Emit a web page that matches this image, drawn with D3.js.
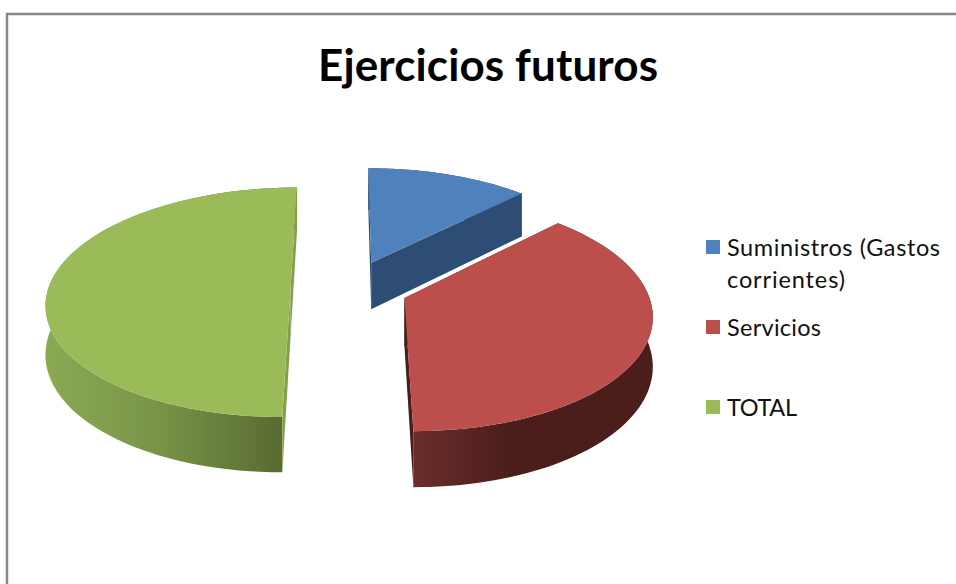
<!DOCTYPE html>
<html>
<head>
<meta charset="utf-8">
<style>
html,body{margin:0;padding:0;background:#fff;overflow:hidden}
svg{display:block}
text{font-family:Lato,"Open Sans",sans-serif;fill:#111}
</style>
<script src="https://cdn.jsdelivr.net/npm/d3@7/dist/d3.min.js"></script>
</head>
<body>
<svg id="c" width="956" height="584"></svg>
<script>
const categories = ["Suministros (Gastos corrientes)", "Servicios", "TOTAL"];
const legendLines = [["Suministros (Gastos", "corrientes)"], ["Servicios"], ["TOTAL"]];
const values = [12.5, 37.5, 50];
const topColors = ["#4f81bd", "#bc4f4c", "#9bbb59"];
const cutColors = ["#2d4d74", "#4a1c1a", "#82a04a"];
const legendTextY = [256, 336, 416];
const legendLengths = [[213, 118], [94], [70]];
const legendLineStep = 32;

const svg = d3.select("#c");
svg.append("path").attr("d", "M7,584V14H956").attr("fill", "none").attr("stroke", "#878787").attr("stroke-width", 2.4);

svg.append("text").attr("x", 318).attr("y", 81)
  .attr("font-size", 44).attr("font-weight", 700).attr("textLength", 340).style("fill", "#000").text("Ejercicios futuros");

// perspective model of the pie
const vx = 346, vy = -575, H = 880, h = 49, D = 1850, R = 247, Ox = 3.5, Oz = 38, explode = 60;
const pie = d3.pie().sort(null).value(d => d)(values);
const project = (X, Z, drop) => {
  const s = 1 / (1 + Z / D);
  return [vx + X * s, vy + (H + drop) * s];
};
const defs = svg.append("defs");
function gradient(id, x1, x2, stops) {
  const g = defs.append("linearGradient").attr("id", id).attr("gradientUnits", "userSpaceOnUse")
    .attr("x1", x1).attr("x2", x2).attr("y1", 0).attr("y2", 0);
  stops.forEach(([o, c]) => g.append("stop").attr("offset", o).attr("stop-color", c));
  return `url(#${id})`;
}
const sideFills = [
  "#2d4d74",
  gradient("sideRed", 414, 654, [[0, "#6a2d2b"], [0.4, "#4b1e1c"], [1, "#4b1e1c"]]),
  gradient("sideGreen", 48, 282, [[0, "#8aa953"], [0.45, "#7a9548"], [1, "#596b31"]])
];
const line = d3.line();
const order = [0, 2, 1];
order.forEach(i => {
  const d = pie[i];
  const mid = (d.startAngle + d.endAngle) / 2;
  const ax = Ox + explode * Math.sin(mid), az = Oz + explode * Math.cos(mid);
  const angles = d3.range(0, 81).map(k => d.startAngle + (d.endAngle - d.startAngle) * k / 80);
  const arcAt = drop => angles.map(a => project(ax + R * Math.sin(a), az + R * Math.cos(a), drop));
  const top = arcAt(0), bottom = arcAt(h);
  const apexTop = project(ax, az, 0), apexBottom = project(ax, az, h);
  const g = svg.append("g");
  g.append("path").attr("d", line(top.concat(bottom.slice().reverse())) + "Z").attr("fill", sideFills[i]);
  [0, top.length - 1].forEach(k => {
    g.append("path").attr("d", line([apexTop, top[k], bottom[k], apexBottom]) + "Z").attr("fill", cutColors[i]);
  });
  g.append("path").attr("d", line([apexTop].concat(top)) + "Z").attr("fill", topColors[i]);
});

categories.forEach((c, i) => {
  const y = legendTextY[i];
  svg.append("rect").attr("x", 706).attr("y", y - 16).attr("width", 14).attr("height", 14).attr("fill", topColors[i]);
  legendLines[i].forEach((t, j) => {
    svg.append("text").attr("x", 727).attr("y", y + j * legendLineStep).attr("font-size", 23.5)
      .attr("textLength", legendLengths[i][j]).text(t);
  });
});
</script>
</body>
</html>
